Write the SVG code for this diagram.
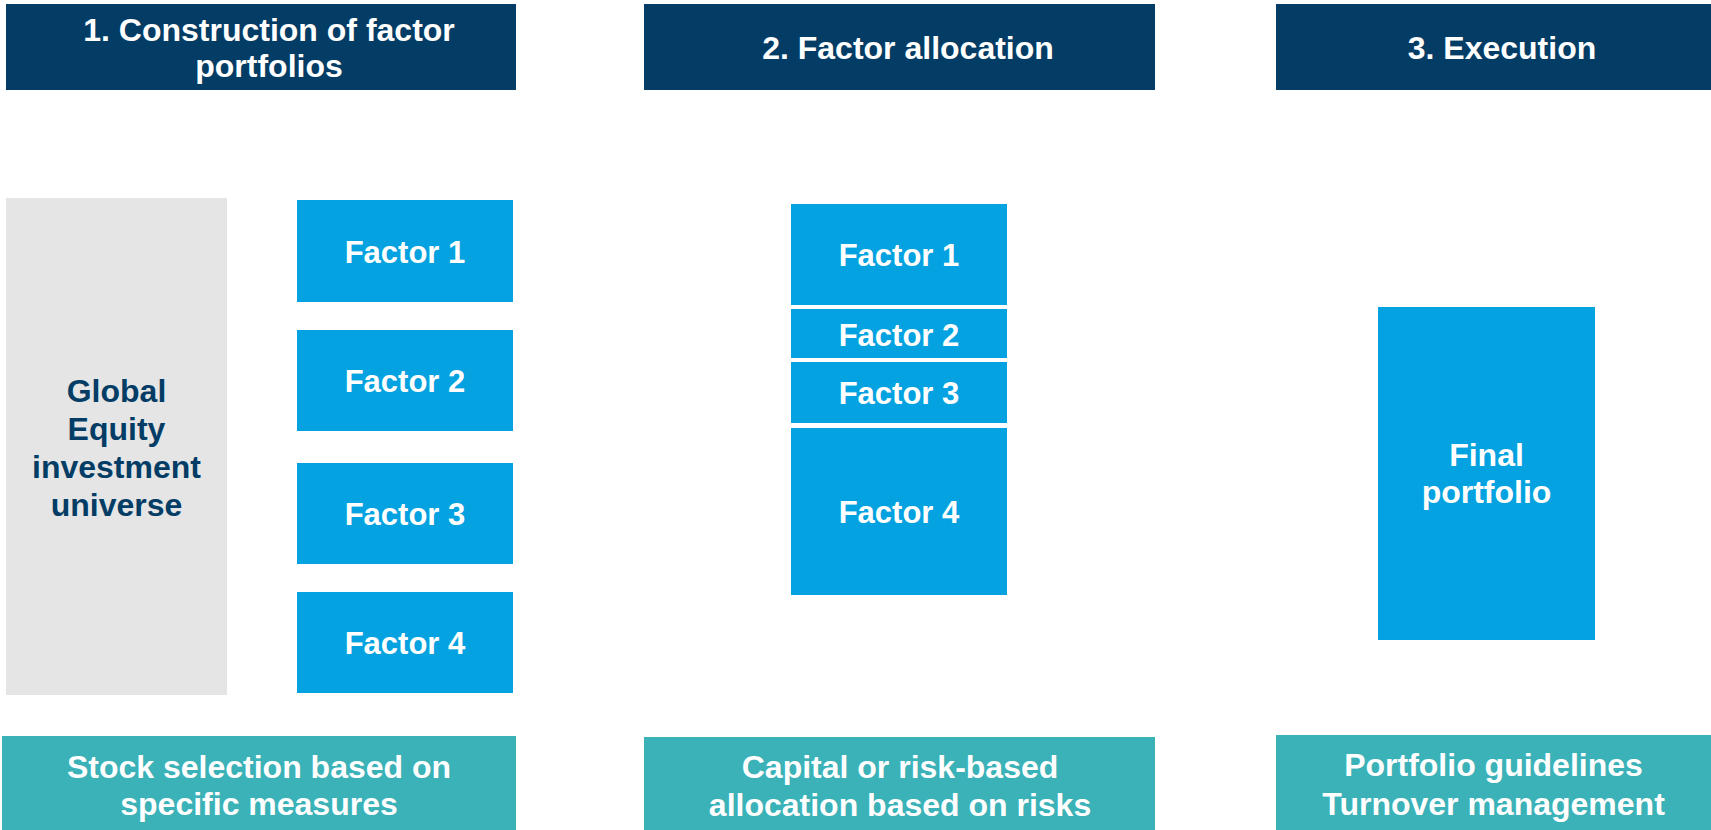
<svg xmlns="http://www.w3.org/2000/svg" width="1711" height="830" viewBox="0 0 1711 830">
  <style>
    text { font-family: "Liberation Sans", Arial, sans-serif; font-weight: bold; text-anchor: middle; }
    .head { fill: #033d66; }
    .foot { fill: #3ab2b8; }
    .factor { fill: #04a2e0; }
    .universe { fill: #e5e5e5; }
    .t-white { fill: #ffffff; font-size: 32px; }
    .t-factor { fill: #ffffff; font-size: 31px; }
    .t-navy { fill: #033d66; font-size: 32px; }
  </style>

  <!-- Stage headers -->
  <g id="header-1">
    <rect class="head" x="6" y="4" width="510" height="86"/>
    <text class="t-white" x="269" y="41">1. Construction of factor</text>
    <text class="t-white" x="269" y="77">portfolios</text>
  </g>
  <g id="header-2">
    <rect class="head" x="644" y="4" width="511" height="86"/>
    <text class="t-white" x="908" y="59">2. Factor allocation</text>
  </g>
  <g id="header-3">
    <rect class="head" x="1276" y="4" width="435" height="86"/>
    <text class="t-white" x="1502" y="59">3. Execution</text>
  </g>

  <!-- Stage 1: universe and factor portfolios -->
  <g id="universe">
    <rect class="universe" x="6" y="198" width="221" height="497"/>
    <text class="t-navy" x="116.5" y="402">Global</text>
    <text class="t-navy" x="116.5" y="440">Equity</text>
    <text class="t-navy" x="116.5" y="478">investment</text>
    <text class="t-navy" x="116.5" y="516">universe</text>
  </g>
  <g id="s1-factor-1">
    <rect class="factor" x="297" y="200" width="216" height="102"/>
    <text class="t-factor" x="405" y="263">Factor 1</text>
  </g>
  <g id="s1-factor-2">
    <rect class="factor" x="297" y="330" width="216" height="101"/>
    <text class="t-factor" x="405" y="392">Factor 2</text>
  </g>
  <g id="s1-factor-3">
    <rect class="factor" x="297" y="463" width="216" height="101"/>
    <text class="t-factor" x="405" y="525">Factor 3</text>
  </g>
  <g id="s1-factor-4">
    <rect class="factor" x="297" y="592" width="216" height="101"/>
    <text class="t-factor" x="405" y="654">Factor 4</text>
  </g>

  <!-- Stage 2: allocated factor weights -->
  <g id="s2-factor-1">
    <rect class="factor" x="791" y="204" width="216" height="101"/>
    <text class="t-factor" x="899" y="266">Factor 1</text>
  </g>
  <g id="s2-factor-2">
    <rect class="factor" x="791" y="309" width="216" height="49"/>
    <text class="t-factor" x="899" y="346">Factor 2</text>
  </g>
  <g id="s2-factor-3">
    <rect class="factor" x="791" y="362" width="216" height="61"/>
    <text class="t-factor" x="899" y="404">Factor 3</text>
  </g>
  <g id="s2-factor-4">
    <rect class="factor" x="791" y="428" width="216" height="167"/>
    <text class="t-factor" x="899" y="523">Factor 4</text>
  </g>

  <!-- Stage 3: final portfolio -->
  <g id="final-portfolio">
    <rect class="factor" x="1378" y="307" width="217" height="333"/>
    <text class="t-white" x="1486.5" y="466">Final</text>
    <text class="t-white" x="1486.5" y="503">portfolio</text>
  </g>

  <!-- Stage descriptions -->
  <g id="footer-1">
    <rect class="foot" x="2" y="736" width="514" height="94"/>
    <text class="t-white" x="259" y="778">Stock selection based on</text>
    <text class="t-white" x="259" y="815">specific measures</text>
  </g>
  <g id="footer-2">
    <rect class="foot" x="644" y="737" width="511" height="93"/>
    <text class="t-white" x="900" y="778">Capital or risk-based</text>
    <text class="t-white" x="900" y="816">allocation based on risks</text>
  </g>
  <g id="footer-3">
    <rect class="foot" x="1276" y="735" width="435" height="95"/>
    <text class="t-white" x="1493.5" y="776">Portfolio guidelines</text>
    <text class="t-white" x="1493.5" y="815">Turnover management</text>
  </g>

  <!-- No connectors are drawn between the stages -->
  <g id="connectors"/>
</svg>
